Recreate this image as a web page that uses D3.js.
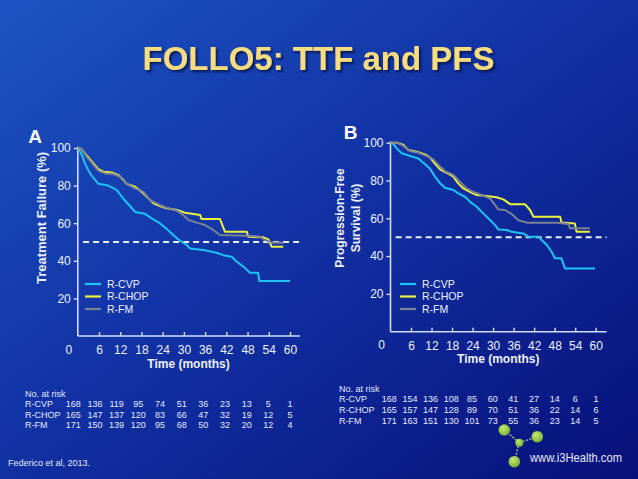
<!DOCTYPE html>
<html><head><meta charset="utf-8">
<script src="https://cdn.jsdelivr.net/npm/d3@7"></script>
<style>html,body{margin:0;padding:0;background:#0c1f8f;}svg{display:block;}</style>
</head><body>
<svg id="chart" width="638" height="479"></svg>
<script>
// ---------- data ----------
const seriesNames = ["R-CVP", "R-CHOP", "R-FM"];
const xTicks = [6, 12, 18, 24, 30, 36, 42, 48, 54, 60];
const yTicks = [20, 40, 60, 80, 100];
const riskTimes = [0, 6, 12, 18, 24, 30, 36, 42, 48, 54, 60];

// Panel A: Treatment failure (TTF)
const tA_cvp = [0, 1, 2, 3, 4, 5.8, 8.6, 11, 12.9, 14.8, 16.2, 19, 20.9, 23.2, 25.1, 27, 28.9, 30.8, 31.7, 35.5, 39.2, 41.1, 43.5, 45, 46.8, 48.7, 51, 51.3, 60];
const vA_cvp = [100, 97, 92, 88, 85, 81, 80, 77.7, 73, 69, 66, 65, 62.6, 60, 57, 53.7, 50.7, 48.4, 46.6, 45.7, 44.3, 43, 42.2, 39.5, 36.9, 33.7, 33.7, 29.3, 29.3];
const tA_chop = [0, 1, 2.5, 4.4, 5.8, 7.2, 9.6, 11.5, 12.9, 13.8, 16.2, 18, 20, 21.4, 23.2, 25.1, 28, 30.3, 32.7, 34.6, 35, 40.2, 41.6, 47.8, 48.2, 52.5, 53.9, 54.8, 58.1];
const vA_chop = [100, 99.5, 96, 91.8, 88.7, 87.4, 87, 85.6, 83, 80.9, 79.4, 76.8, 73.2, 70.6, 69.1, 67.9, 67, 65.6, 64.9, 64.4, 62.2, 62.2, 55.5, 55.5, 52.8, 52.5, 51.4, 47.5, 47.5];
const tA_fm = [0, 1, 2.5, 4.4, 5.8, 7.7, 10, 11.9, 13.8, 16.2, 18.5, 20.4, 23.2, 25.6, 28, 29.8, 31.3, 33.6, 36, 38.3, 40.2, 49.6, 51.5, 52.9, 55.3, 58.1];
const vA_fm = [100, 99.5, 95.4, 91, 88, 86.5, 86.2, 84.8, 80.9, 78.5, 76.8, 72.3, 69.7, 67.9, 66.7, 64.4, 61.7, 60.3, 59, 56.4, 53.7, 53.2, 52.8, 51, 49.6, 49.6];
const riskA_cvp = [168, 136, 119, 95, 74, 51, 36, 23, 13, 5, 1];
const riskA_chop = [165, 147, 137, 120, 83, 66, 47, 32, 19, 12, 5];
const riskA_fm = [171, 150, 139, 120, 95, 68, 50, 32, 20, 12, 4];

// Panel B: Progression-free survival (PFS)
const tB_cvp = [0, 0.5, 1.8, 3.3, 5.7, 8.1, 9.6, 11.5, 13, 14.5, 15.9, 18.4, 19.8, 21.8, 23.2, 25.2, 27.1, 29.1, 30.6, 31.5, 34, 35.4, 38.8, 40.3, 43.2, 44.2, 45.7, 47.1, 48.1, 50, 51, 59.8];
const vB_cvp = [100, 100, 97, 94.4, 93, 91.7, 89.4, 86.4, 82, 78.5, 76.2, 75, 73.2, 71.4, 68.8, 66.1, 62.6, 59.1, 56.4, 54.1, 53.8, 52.9, 52, 50.3, 50.3, 48.5, 45.9, 42.3, 38.8, 38.8, 33.5, 33.5];
const tB_chop = [0, 2, 3.8, 5.2, 7.7, 10.1, 11.5, 13, 14.5, 16.4, 18.4, 19.8, 21.3, 23.2, 25.2, 28.1, 31, 33, 35, 39.3, 40.8, 41.8, 49.6, 50, 53.9, 54.4, 58.3];
const vB_chop = [100, 100, 98.8, 96.1, 95.2, 93.8, 92.2, 89, 85.9, 84.1, 82, 78.5, 75.8, 74, 72.3, 71.8, 71.1, 70, 67.5, 67.5, 64.4, 60.8, 60.8, 57.8, 57.3, 52.9, 52.9];
const tB_fm = [0, 2, 3.8, 5.7, 8.1, 10.6, 12.5, 14, 15.9, 18.4, 20.3, 22.3, 24.2, 26.7, 29.1, 30.6, 31.5, 33.5, 35.4, 37.4, 39.8, 48.6, 52, 52.5, 58.3];
const vB_fm = [100, 100, 98.2, 95.6, 94.7, 92.9, 91.2, 88.2, 85, 82.9, 79.4, 75.8, 74, 72.3, 70.5, 67, 64.7, 64.4, 62.3, 59, 57.7, 57.7, 57, 54.7, 54.7];
const riskB_cvp = [168, 154, 136, 108, 85, 60, 41, 27, 14, 6, 1];
const riskB_chop = [165, 157, 147, 128, 89, 70, 51, 36, 22, 14, 6];
const riskB_fm = [171, 163, 151, 130, 101, 73, 55, 36, 23, 14, 5];

// ---------- drawing ----------
const svg = d3.select("#chart");
const W = 638, H = 479;
const FONT = "'Liberation Sans', Arial, Helvetica, sans-serif";
const textCol = "#eef0ff";
const axisCol = "#d4dcf4";
const colors = ["#1cc4f4", "#eef23c", "#7c8296"];

const defs = svg.append("defs");
const bg = defs.append("linearGradient").attr("id", "bg")
  .attr("x1", "0").attr("y1", "0").attr("x2", "1").attr("y2", "1");
bg.append("stop").attr("offset", "0").attr("stop-color", "#1d54c2");
bg.append("stop").attr("offset", "0.45").attr("stop-color", "#1233a6");
bg.append("stop").attr("offset", "1").attr("stop-color", "#07107a");
const gl = defs.append("radialGradient").attr("id", "ball").attr("cx", "0.4").attr("cy", "0.35").attr("r", "0.65");
gl.append("stop").attr("offset", "0").attr("stop-color", "#c4e870");
gl.append("stop").attr("offset", "1").attr("stop-color", "#7cb032");
const sh = defs.append("filter").attr("id", "shadow").attr("x", "-10%").attr("y", "-30%").attr("width", "120%").attr("height", "160%");
sh.append("feDropShadow").attr("dx", 2).attr("dy", 2).attr("stdDeviation", 0.8)
  .attr("flood-color", "#06103a").attr("flood-opacity", 0.8);

svg.append("rect").attr("width", W).attr("height", H).attr("fill", "url(#bg)");

// title
svg.append("text").attr("x", 318.5).attr("y", 70).attr("text-anchor", "middle")
  .attr("font-family", FONT).attr("font-weight", "bold").attr("font-size", 33)
  .attr("fill", "#f8dc80").attr("filter", "url(#shadow)").text("FOLLO5: TTF and PFS");

function panel(cfg) {
  const g = svg.append("g");
  const x = d3.scaleLinear().domain([0, 60]).range([cfg.x0, cfg.x60]);
  const y = d3.scaleLinear().domain([0, 100]).range([cfg.y0, cfg.y100]);

  // y axis
  const ya = g.append("g").attr("transform", `translate(${cfg.x0},0)`)
    .call(d3.axisLeft(y).tickValues(yTicks).tickSize(4).tickPadding(3).tickSizeOuter(0));
  ya.select(".domain").remove();
  ya.append("line").attr("x1", 0).attr("x2", 0).attr("y1", cfg.y0).attr("y2", y(100.6))
    .attr("stroke", axisCol).attr("stroke-width", 1.6);
  // x axis
  const xa = g.append("g").attr("transform", `translate(0,${cfg.y0})`)
    .call(d3.axisBottom(x).tickValues(xTicks).tickSize(-4).tickPadding(9.5).tickSizeOuter(0));
  xa.select(".domain").remove();
  xa.append("line").attr("x1", cfg.x0).attr("x2", x(cfg.xEnd)).attr("y1", 0).attr("y2", 0)
    .attr("stroke", axisCol).attr("stroke-width", 1.6);
  [ya, xa].forEach(a => {
    a.selectAll(".tick line").attr("stroke", axisCol).attr("stroke-width", 1.4);
    a.selectAll(".tick text").attr("fill", textCol).attr("font-family", FONT).attr("font-size", 12);
  });
  // origin "0"
  g.append("text").attr("x", cfg.x0 - 9).attr("y", cfg.y0 + 17.5).attr("text-anchor", "middle")
    .attr("font-family", FONT).attr("font-size", 12).attr("fill", textCol).text("0");

  // median line
  g.append("line").attr("x1", x(1.5)).attr("x2", x(cfg.xEnd)).attr("y1", y(50)).attr("y2", y(50))
    .attr("stroke", "#e8ecf8").attr("stroke-width", 2).attr("stroke-dasharray", "6,4");

  // curves
  const line = d3.line().x(d => x(d[0])).y(d => y(d[1]));
  cfg.series.forEach((s, i) => {
    const pts = s.t.map((t, j) => [t, s.v[j]]);
    g.append("path").datum(pts).attr("d", line).attr("fill", "none")
      .attr("stroke", colors[i]).attr("stroke-width", 2).attr("stroke-linejoin", "round");
  });

  // legend
  seriesNames.forEach((n, i) => {
    const ly = cfg.legY + i * 12.5;
    g.append("line").attr("x1", cfg.legX).attr("x2", cfg.legX + 16).attr("y1", ly).attr("y2", ly)
      .attr("stroke", colors[i]).attr("stroke-width", 2.2);
    g.append("text").attr("x", cfg.legX + 22).attr("y", ly + 3.8)
      .attr("font-family", FONT).attr("font-size", 10.5).attr("fill", textCol).text(n);
  });

  // axis labels
  g.append("text").attr("x", cfg.xLabX).attr("y", cfg.xLabY).attr("text-anchor", "middle")
    .attr("font-family", FONT).attr("font-weight", "bold").attr("font-size", 12)
    .attr("fill", textCol).text("Time (months)");
  cfg.yLab.forEach(l => {
    g.append("text").attr("transform", `translate(${l.x},${cfg.yLabCY}) rotate(-90)`)
      .attr("text-anchor", "middle").attr("dy", "0.35em")
      .attr("font-family", FONT).attr("font-weight", "bold").attr("font-size", l.size)
      .attr("fill", textCol).text(l.text);
  });
  // panel letter
  g.append("text").attr("x", cfg.letX).attr("y", cfg.letY).attr("text-anchor", "middle")
    .attr("font-family", FONT).attr("font-weight", "bold").attr("font-size", 19)
    .attr("fill", "#ffffff").text(cfg.letter);

  // risk table
  const rx = d3.scalePoint().domain(riskTimes).range(cfg.riskRange);
  const rt = g.append("g").attr("font-family", FONT).attr("font-size", 9).attr("fill", "#e6e9ff");
  rt.append("text").attr("x", cfg.riskLabX).attr("y", cfg.riskY).text("No. at risk");
  cfg.risk.forEach((row, i) => {
    const yy = cfg.riskY + (i + 1) * cfg.riskDY;
    rt.append("text").attr("x", cfg.riskLabX).attr("y", yy).text(seriesNames[i]);
    row.forEach((val, j) => {
      rt.append("text").attr("x", rx(riskTimes[j])).attr("y", yy).attr("text-anchor", "middle").text(val);
    });
  });
}

panel({
  x0: 77.8, x60: 290, xEnd: 62.8, y0: 336, y100: 148,
  series: [{t: tA_cvp, v: vA_cvp}, {t: tA_chop, v: vA_chop}, {t: tA_fm, v: vA_fm}],
  legX: 85, legY: 284,
  xLabX: 188.5, xLabY: 368,
  yLabCY: 218, yLab: [{x: 41.7, text: "Treatment Failure (%)", size: 13}],
  letter: "A", letX: 35, letY: 143,
  riskRange: [73.3, 290], riskY: 396.7, riskDY: 10.4, riskLabX: 25,
  risk: [riskA_cvp, riskA_chop, riskA_fm]
});
panel({
  x0: 390.5, x60: 595.7, xEnd: 63.2, y0: 331.7, y100: 142.7,
  series: [{t: tB_cvp, v: vB_cvp}, {t: tB_chop, v: vB_chop}, {t: tB_fm, v: vB_fm}],
  legX: 400, legY: 284,
  xLabX: 498.3, xLabY: 363,
  yLabCY: 218, yLab: [{x: 340, text: "Progression-Free", size: 12}, {x: 355.5, text: "Survival (%)", size: 12}],
  letter: "B", letX: 350.5, letY: 138.5,
  riskRange: [389.3, 596], riskY: 391.7, riskDY: 10.6, riskLabX: 339,
  risk: [riskB_cvp, riskB_chop, riskB_fm]
});

// footer
svg.append("text").attr("x", 8).attr("y", 465.5).attr("font-family", FONT).attr("font-size", 9)
  .attr("fill", "#e6e9ff").text("Federico et al, 2013.");

// logo
const logo = svg.append("g");
const hub = [519.3, 442.7];
const balls = [[504.3, 430, 5.8], [537.3, 436.7, 5.8], [514.3, 461.7, 5.8]];
balls.forEach(b => {
  logo.append("line").attr("x1", hub[0]).attr("y1", hub[1]).attr("x2", b[0]).attr("y2", b[1])
    .attr("stroke", "#a8b890").attr("stroke-width", 1.5).attr("stroke-dasharray", "2,1.5");
});
logo.append("circle").attr("cx", hub[0]).attr("cy", hub[1]).attr("r", 4).attr("fill", "url(#ball)");
balls.forEach(b => logo.append("circle").attr("cx", b[0]).attr("cy", b[1]).attr("r", b[2]).attr("fill", "url(#ball)"));
logo.append("text").attr("x", 530).attr("y", 461.7).attr("font-family", FONT).attr("font-size", 13)
  .attr("textLength", 92).attr("lengthAdjust", "spacingAndGlyphs")
  .attr("fill", "#e4e6f6").text("www.i3Health.com");
</script>
</body></html>
